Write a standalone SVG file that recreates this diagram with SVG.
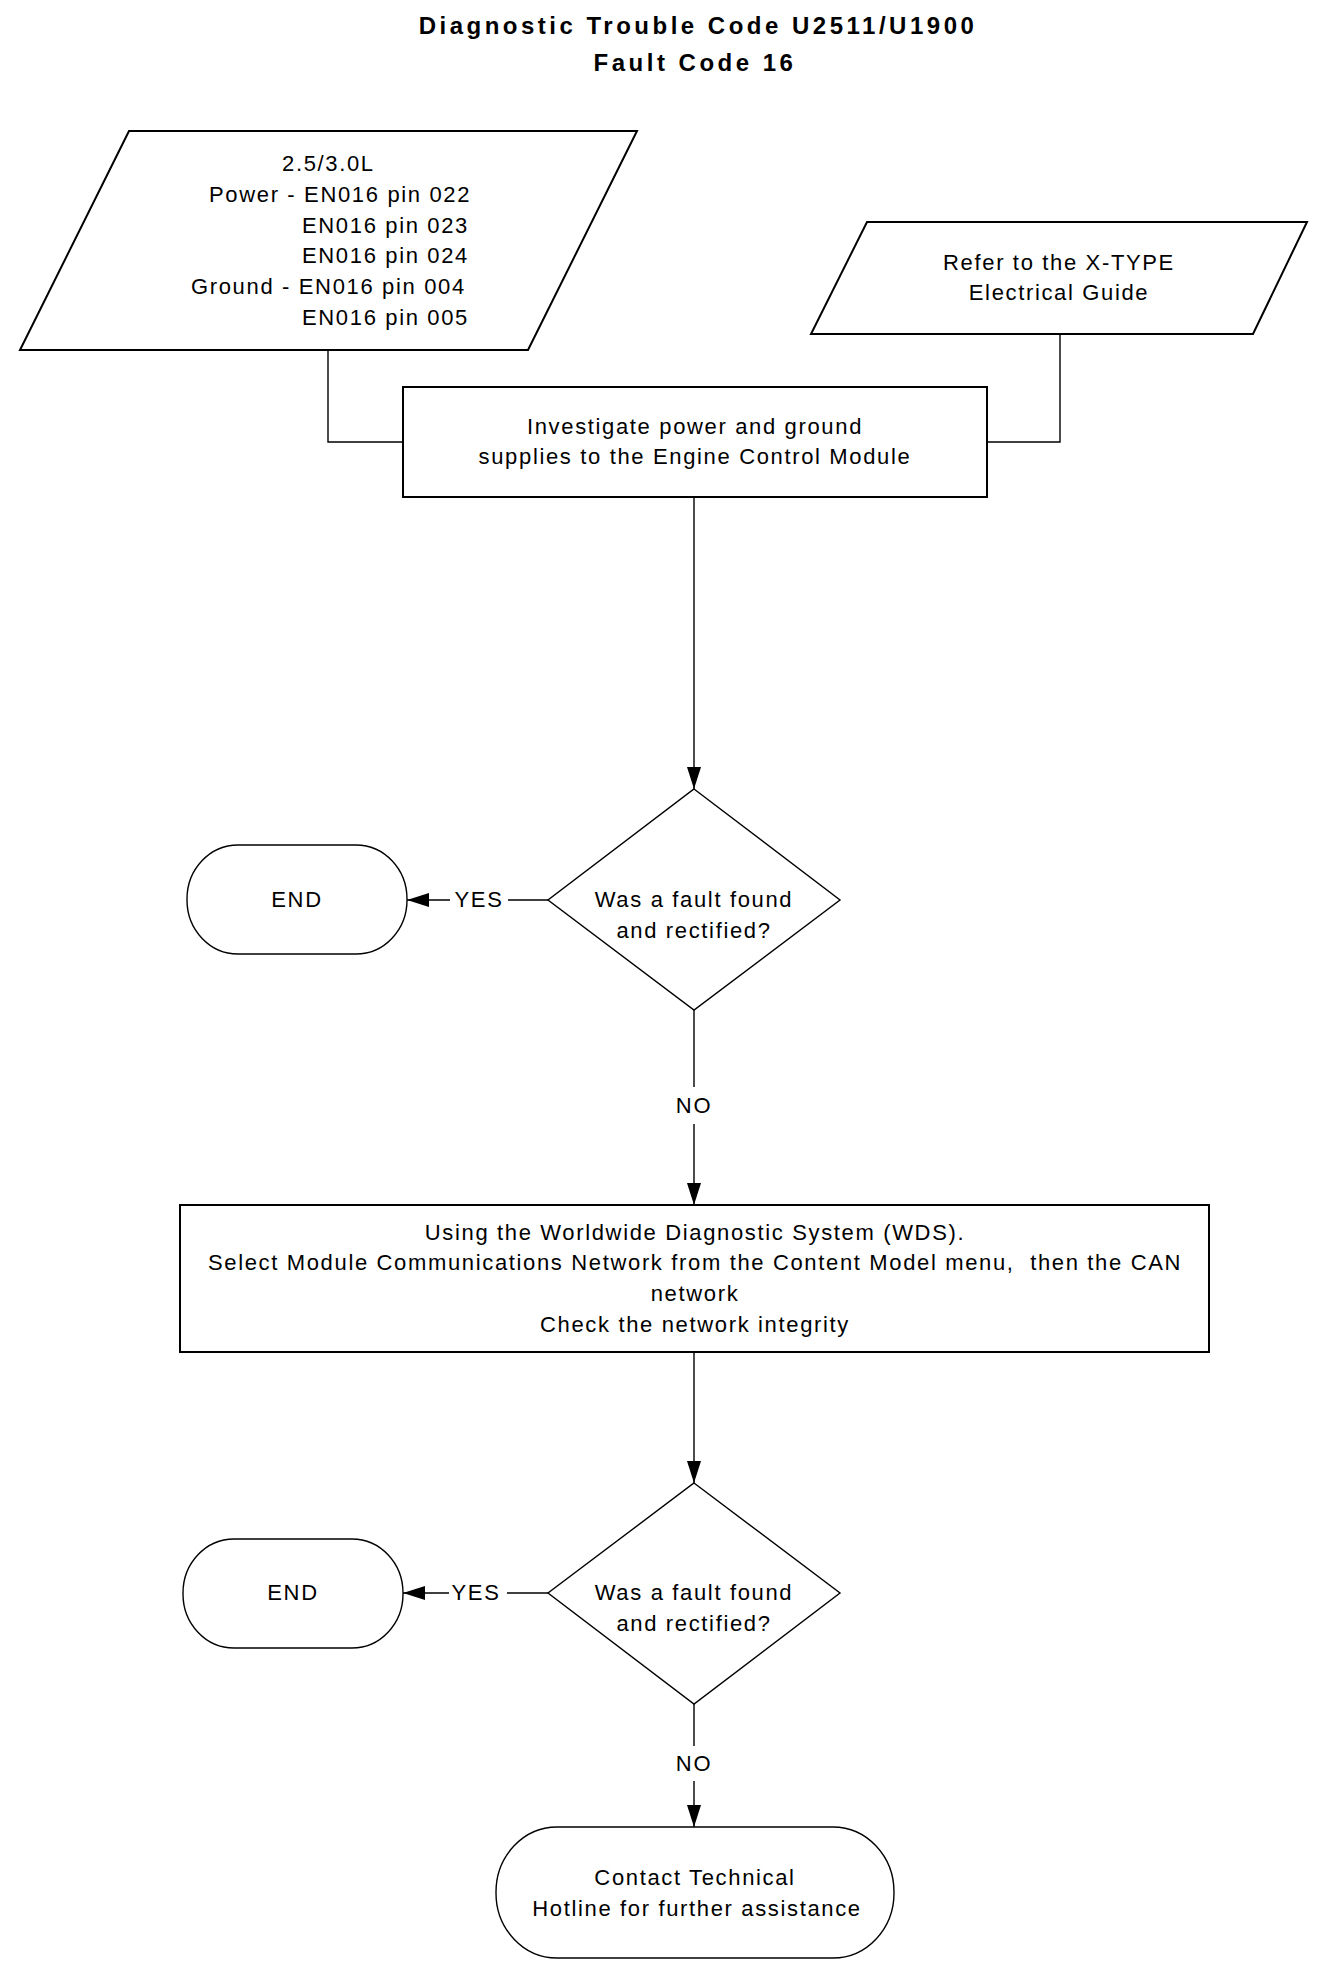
<svg xmlns="http://www.w3.org/2000/svg" width="1328" height="1978" viewBox="0 0 1328 1978">
<style>
  .bg { fill: #ffffff; }
  .thick { fill: #ffffff; stroke: #000000; stroke-width: 2; }
  .thin { fill: #ffffff; stroke: #000000; stroke-width: 1.4; }
  .conn { fill: none; stroke: #000000; stroke-width: 1.4; }
  text { font-family: "Liberation Sans", Arial, sans-serif; font-size: 22px; letter-spacing: 1.65px; fill: #000000; }
  .c { text-anchor: middle; }
  .title { font-weight: bold; font-size: 24px; letter-spacing: 3.5px; text-anchor: middle; }
</style>
<defs>
  <marker id="arrow" markerUnits="userSpaceOnUse" markerWidth="22" markerHeight="14" viewBox="0 0 22 14" refX="22" refY="7" orient="auto">
    <path d="M0,0 L22,7 L0,14 Z" fill="#000000"/>
  </marker>
</defs>
<rect class="bg" x="0" y="0" width="1328" height="1978"/>

<g id="title">
  <text class="title" x="698" y="34">Diagnostic Trouble Code U2511/U1900</text>
  <text class="title" x="695" y="71">Fault Code 16</text>
</g>

<g id="connectors">
  <polyline class="conn" points="328,350 328,442 403,442"/>
  <polyline class="conn" points="1060,334 1060,442 987,442"/>
  <path class="conn" d="M694,497 V789" marker-end="url(#arrow)"/>
  <path class="conn" d="M548,900 H508 M450,900 H407" marker-end="url(#arrow)"/>
  <text x="479" y="907" class="c">YES</text>
  <path class="conn" d="M694,1010 V1087 M694,1124 V1205" marker-end="url(#arrow)"/>
  <text x="694" y="1113" class="c">NO</text>
  <path class="conn" d="M694,1352 V1483" marker-end="url(#arrow)"/>
  <path class="conn" d="M548,1593 H507 M449,1593 H403" marker-end="url(#arrow)"/>
  <text x="476" y="1600" class="c">YES</text>
  <path class="conn" d="M694,1704 V1746 M694,1781 V1827" marker-end="url(#arrow)"/>
  <text x="694" y="1771" class="c">NO</text>
</g>

<g id="pins">
  <polygon class="thick" points="129,131 637,131 528,350 20,350"/>
  <text x="282" y="171">2.5/3.0L</text>
  <text x="209" y="202">Power - EN016 pin 022</text>
  <text x="302" y="233">EN016 pin 023</text>
  <text x="302" y="263">EN016 pin 024</text>
  <text x="191" y="294">Ground - EN016 pin 004</text>
  <text x="302" y="325">EN016 pin 005</text>
</g>

<g id="guide">
  <polygon class="thick" points="867,222 1307,222 1253,334 811,334"/>
  <text x="1059" y="270" class="c">Refer to the X-TYPE</text>
  <text x="1059" y="300" class="c">Electrical Guide</text>
</g>

<g id="investigate">
  <rect class="thick" x="403" y="387" width="584" height="110"/>
  <text x="695" y="434" class="c">Investigate power and ground</text>
  <text x="695" y="464" class="c">supplies to the Engine Control Module</text>
</g>

<g id="decision1">
  <polygon class="thin" points="694,789 840,900 694,1010 548,900"/>
  <text x="694" y="907" class="c">Was a fault found</text>
  <text x="694" y="938" class="c">and rectified?</text>
</g>

<g id="end1">
  <rect class="thin" x="187" y="845" width="220" height="109" rx="51" ry="54"/>
  <text x="297" y="907" class="c">END</text>
</g>

<g id="wds">
  <rect class="thick" x="180" y="1205" width="1029" height="147"/>
  <text x="695" y="1240" class="c">Using the Worldwide Diagnostic System (WDS).</text>
  <text x="695" y="1270" class="c" xml:space="preserve">Select Module Communications Network from the Content Model menu,  then the CAN</text>
  <text x="695" y="1301" class="c">network</text>
  <text x="695" y="1332" class="c">Check the network integrity</text>
</g>

<g id="decision2">
  <polygon class="thin" points="694,1483 840,1593 694,1704 548,1593"/>
  <text x="694" y="1600" class="c">Was a fault found</text>
  <text x="694" y="1631" class="c">and rectified?</text>
</g>

<g id="end2">
  <rect class="thin" x="183" y="1539" width="220" height="109" rx="51" ry="54"/>
  <text x="293" y="1600" class="c">END</text>
</g>

<g id="contact">
  <rect class="thin" x="496" y="1827" width="398" height="131" rx="61" ry="65"/>
  <text x="695" y="1885" class="c">Contact Technical</text>
  <text x="697" y="1916" class="c">Hotline for further assistance</text>
</g>
</svg>
